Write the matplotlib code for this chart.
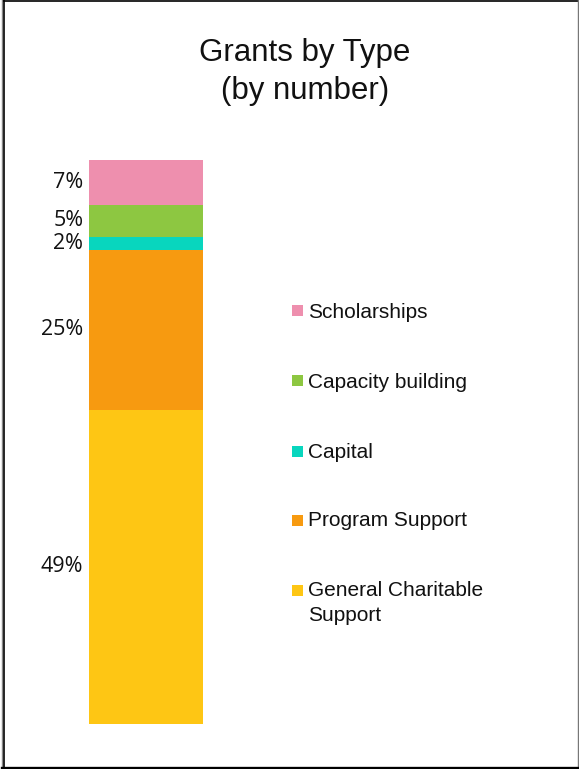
import matplotlib.pyplot as plt
from matplotlib.lines import Line2D
from matplotlib.patches import Rectangle

W, H = 579, 769
DPI = 100

# stacked from the bottom up
categories = ["General Charitable\nSupport", "Program Support", "Capital",
              "Capacity building", "Scholarships"]
shares = [49, 25, 2, 5, 7]
colors = ["#FEC614", "#F79A10", "#08D6BE", "#8DC741", "#EE8FAE"]
pct_labels = ["49%", "25%", "2%", "5%", "7%"]

fig = plt.figure(figsize=(W / DPI, H / DPI), dpi=DPI)
fig.patch.set_facecolor("white")


def fx(px):
    return px / W


def fy(py):
    return 1 - py / H


# single stacked column
bar_left, bar_right, bar_top, bar_bottom = 89, 203, 160, 724
ax = fig.add_axes([fx(bar_left), fy(bar_bottom),
                   (bar_right - bar_left) / W, (bar_bottom - bar_top) / H])
bottom = 0
for share, color, label in zip(shares, colors, pct_labels):
    ax.bar(0, share, width=1.0, bottom=bottom, color=color, linewidth=0)
    ax.text(-0.55, bottom + share / 2, label, ha="right", va="center",
            fontsize=15.5, family="Open Sans", color="#111111")
    bottom += share
ax.set_xlim(-0.5, 0.5)
ax.set_ylim(0, sum(shares))
ax.axis("off")

fig.text(fx(305), fy(72), "Grants by Type\n(by number)", ha="center",
         va="center", fontsize=22.5, family="Liberation Sans",
         linespacing=1.35, color="#111111")

# legend, top entry first
legend_rows = [311, 381, 451, 520, 590]
for row, name, color in zip(legend_rows, categories[::-1], colors[::-1]):
    fig.add_artist(Rectangle((fx(292), fy(row + 5.5)), 11 / W, 11 / H,
                             transform=fig.transFigure, color=color, lw=0))
    fig.text(fx(308), fy(row - 8.5), name, ha="left", va="top",
             fontsize=15, family="Liberation Sans", linespacing=1.38,
             color="#111111")

# page frame
fig.add_artist(Line2D([fx(3), fx(578)], [fy(0.7), fy(0.7)],
                      transform=fig.transFigure, color="black", lw=1.2))
fig.add_artist(Line2D([fx(2.2), fx(2.2)], [fy(0), fy(769)],
                      transform=fig.transFigure, color="#888888", lw=1.0))
fig.add_artist(Line2D([fx(3.6), fx(3.6)], [fy(0), fy(767)],
                      transform=fig.transFigure, color="black", lw=1.2))
fig.add_artist(Line2D([fx(577.8), fx(577.8)], [fy(0), fy(767)],
                      transform=fig.transFigure, color="#777777", lw=1.0))
fig.add_artist(Line2D([fx(2), fx(579)], [fy(767.7), fy(767.7)],
                      transform=fig.transFigure, color="black", lw=2.4))

fig.savefig("out.png", dpi=DPI, facecolor="white")
